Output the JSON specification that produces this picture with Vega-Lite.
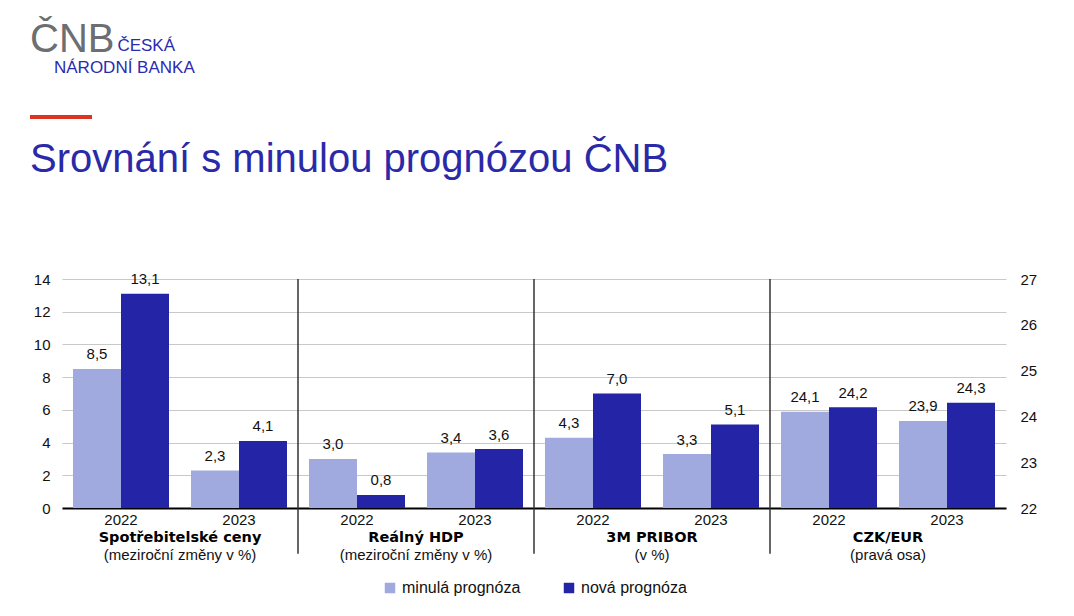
{
  "$schema": "https://vega.github.io/schema/vega-lite/v6.json",
  "background": "white",
  "padding": {"left": 30, "top": 20, "right": 10, "bottom": 4},
  "config": {
    "font": "Liberation Sans",
    "view": {"stroke": null},
    "locale": {"number": {"decimal": ",", "thousands": "\u00a0", "grouping": [3], "currency": ["", " Kč"]}},
    "legend": {"layout": {"bottom": {"anchor": "middle"}}}
  },
  "title": {
    "text": "ČNB",
    "subtitle": ["\u2800\u2800\u2800\u2800\u2800\u2800\u2800\u2009ČESKÁ", "\u2800\u2800NÁRODNÍ BANKA"],
    "anchor": "start",
    "frame": "bounds",
    "font": "Liberation Sans",
    "fontSize": 40,
    "fontWeight": "normal",
    "color": "#6d6e71",
    "subtitleFont": "Liberation Sans",
    "subtitleFontSize": 17,
    "subtitleColor": "#2b2bb0",
    "subtitleLineHeight": 22,
    "subtitlePadding": -22,
    "offset": 7
  },
  "vconcat": [
    {
      "width": 944,
      "height": 229,
      "title": {
        "text": "—",
        "subtitle": "Srovnání s minulou prognózou ČNB",
        "anchor": "start",
        "frame": "bounds",
        "font": "Liberation Sans",
        "fontSize": 62,
        "fontWeight": "normal",
        "color": "#dd3322",
        "subtitleFont": "Liberation Sans",
        "subtitleFontSize": 40,
        "subtitleColor": "#2a2aa8",
        "subtitlePadding": -6,
        "offset": 91
      },
      "data": {
        "values": [
          {"grp": "Spotřebitelské ceny", "unit": "(meziroční změny v %)", "cat": "Spotřebitelské ceny 2022", "series": "minulá prognóza", "value": 8.5},
          {"grp": "Spotřebitelské ceny", "unit": "(meziroční změny v %)", "cat": "Spotřebitelské ceny 2022", "series": "nová prognóza", "value": 13.1},
          {"grp": "Spotřebitelské ceny", "unit": "(meziroční změny v %)", "cat": "Spotřebitelské ceny 2023", "series": "minulá prognóza", "value": 2.3},
          {"grp": "Spotřebitelské ceny", "unit": "(meziroční změny v %)", "cat": "Spotřebitelské ceny 2023", "series": "nová prognóza", "value": 4.1},
          {"grp": "Reálný HDP", "unit": "(meziroční změny v %)", "cat": "Reálný HDP 2022", "series": "minulá prognóza", "value": 3.0},
          {"grp": "Reálný HDP", "unit": "(meziroční změny v %)", "cat": "Reálný HDP 2022", "series": "nová prognóza", "value": 0.8},
          {"grp": "Reálný HDP", "unit": "(meziroční změny v %)", "cat": "Reálný HDP 2023", "series": "minulá prognóza", "value": 3.4},
          {"grp": "Reálný HDP", "unit": "(meziroční změny v %)", "cat": "Reálný HDP 2023", "series": "nová prognóza", "value": 3.6},
          {"grp": "3M PRIBOR", "unit": "(v %)", "cat": "3M PRIBOR 2022", "series": "minulá prognóza", "value": 4.3},
          {"grp": "3M PRIBOR", "unit": "(v %)", "cat": "3M PRIBOR 2022", "series": "nová prognóza", "value": 7.0},
          {"grp": "3M PRIBOR", "unit": "(v %)", "cat": "3M PRIBOR 2023", "series": "minulá prognóza", "value": 3.3},
          {"grp": "3M PRIBOR", "unit": "(v %)", "cat": "3M PRIBOR 2023", "series": "nová prognóza", "value": 5.1},
          {"grp": "CZK/EUR", "unit": "(pravá osa)", "cat": "CZK/EUR 2022", "series": "minulá prognóza", "value": 24.1},
          {"grp": "CZK/EUR", "unit": "(pravá osa)", "cat": "CZK/EUR 2022", "series": "nová prognóza", "value": 24.2},
          {"grp": "CZK/EUR", "unit": "(pravá osa)", "cat": "CZK/EUR 2023", "series": "minulá prognóza", "value": 23.9},
          {"grp": "CZK/EUR", "unit": "(pravá osa)", "cat": "CZK/EUR 2023", "series": "nová prognóza", "value": 24.3}
        ]
      },
      "encoding": {
        "x": {
          "field": "cat", "type": "nominal",
          "scale": {"domain": ["Spotřebitelské ceny 2022", "Spotřebitelské ceny 2023", "Reálný HDP 2022", "Reálný HDP 2023", "3M PRIBOR 2022", "3M PRIBOR 2023", "CZK/EUR 2022", "CZK/EUR 2023"], "paddingInner": 0.1864, "paddingOuter": 0.0932},
          "axis": {"title": null, "labelExpr": "slice(datum.label, -4)", "labelAngle": 0, "ticks": false, "domain": true, "domainColor": "#000000", "domainWidth": 2, "labelPadding": 4, "labelFontSize": 15, "labelColor": "#111111", "grid": false}
        }
      },
      "resolve": {"scale": {"y": "independent"}},
      "layer": [
        {
          "transform": [{"filter": "datum.grp !== 'CZK/EUR'"}],
          "mark": {"type": "bar"},
          "encoding": {
            "xOffset": {"field": "series", "type": "nominal", "scale": {"domain": ["minulá prognóza", "nová prognóza"], "paddingInner": 0, "paddingOuter": 0}},
            "y": {
              "field": "value", "type": "quantitative",
              "scale": {"domain": [0, 14], "nice": false, "zero": true},
              "axis": {"orient": "left", "title": null, "values": [0, 2, 4, 6, 8, 10, 12, 14], "format": "d", "grid": true, "gridColor": "#c8c8c8", "gridWidth": 1, "ticks": false, "domain": false, "labelPadding": 12, "minExtent": 32, "labelFontSize": 15, "labelColor": "#111111"}
            },
            "color": {"field": "series", "type": "nominal", "scale": {"domain": ["minulá prognóza", "nová prognóza"], "range": ["#a0aadf", "#2424a6"]},
              "legend": {"orient": "bottom", "direction": "horizontal", "title": null, "symbolType": "square", "symbolSize": 110, "symbolStrokeWidth": 0, "labelFontSize": 16, "labelColor": "#111111", "columnPadding": 40, "labelOffset": 4, "offset": 16}}
          }
        },
        {
          "transform": [{"filter": "datum.grp !== 'CZK/EUR'"}],
          "mark": {"type": "text", "dy": -14.5, "fontSize": 15, "color": "#111111"},
          "encoding": {
            "xOffset": {"field": "series", "type": "nominal", "scale": {"domain": ["minulá prognóza", "nová prognóza"], "paddingInner": 0, "paddingOuter": 0}},
            "y": {"field": "value", "type": "quantitative", "scale": {"domain": [0, 14], "nice": false, "zero": true}, "axis": null},
            "text": {"field": "value", "type": "quantitative", "format": ".1f"}
          }
        },
        {
          "transform": [{"filter": "datum.grp === 'CZK/EUR'"}],
          "mark": {"type": "bar"},
          "encoding": {
            "xOffset": {"field": "series", "type": "nominal", "scale": {"domain": ["minulá prognóza", "nová prognóza"], "paddingInner": 0, "paddingOuter": 0}},
            "y": {
              "field": "value", "type": "quantitative",
              "scale": {"domain": [22, 27], "nice": false, "zero": false},
              "axis": {"orient": "right", "title": null, "values": [22, 23, 24, 25, 26, 27], "format": "d", "grid": false, "ticks": false, "domain": false, "labelPadding": 14, "labelFontSize": 15, "labelColor": "#111111"}
            },
            "y2": {"datum": 22},
            "color": {"field": "series", "type": "nominal", "scale": {"domain": ["minulá prognóza", "nová prognóza"], "range": ["#a0aadf", "#2424a6"]}}
          }
        },
        {
          "transform": [{"filter": "datum.grp === 'CZK/EUR'"}],
          "mark": {"type": "text", "dy": -14.5, "fontSize": 15, "color": "#111111"},
          "encoding": {
            "xOffset": {"field": "series", "type": "nominal", "scale": {"domain": ["minulá prognóza", "nová prognóza"], "paddingInner": 0, "paddingOuter": 0}},
            "y": {"field": "value", "type": "quantitative", "scale": {"domain": [22, 27], "nice": false, "zero": false}, "axis": null},
            "text": {"field": "value", "type": "quantitative", "format": ".1f"}
          }
        },
        {
          "transform": [
            {"filter": {"field": "series", "equal": "minulá prognóza"}},
            {"filter": {"field": "cat", "oneOf": ["Reálný HDP 2022", "3M PRIBOR 2022", "CZK/EUR 2022"]}}
          ],
          "mark": {"type": "rule", "color": "#333333", "strokeWidth": 1.5},
          "encoding": {
            "x": {"field": "cat", "type": "nominal", "bandPosition": -0.1146},
            "y": {"datum": 14, "type": "quantitative", "scale": {"domain": [0, 14], "nice": false}, "axis": null},
            "y2": {"datum": -2.8}
          }
        },
        {
          "transform": [
            {"filter": {"field": "series", "equal": "minulá prognóza"}},
            {"filter": {"field": "cat", "oneOf": ["Spotřebitelské ceny 2022", "Reálný HDP 2022", "3M PRIBOR 2022", "CZK/EUR 2022"]}}
          ],
          "mark": {"type": "text", "font": "DejaVu Sans", "fontWeight": "bold", "fontSize": 14.5, "color": "#000000", "baseline": "middle"},
          "encoding": {
            "x": {"field": "cat", "type": "nominal", "bandPosition": 1.1146},
            "y": {"datum": -1.83, "type": "quantitative", "scale": {"domain": [0, 14], "nice": false}, "axis": null},
            "text": {"field": "grp"}
          }
        },
        {
          "transform": [
            {"filter": {"field": "series", "equal": "minulá prognóza"}},
            {"filter": {"field": "cat", "oneOf": ["Spotřebitelské ceny 2022", "Reálný HDP 2022", "3M PRIBOR 2022", "CZK/EUR 2022"]}}
          ],
          "mark": {"type": "text", "fontSize": 15, "color": "#111111", "baseline": "middle"},
          "encoding": {
            "x": {"field": "cat", "type": "nominal", "bandPosition": 1.1146},
            "y": {"datum": -2.9, "type": "quantitative", "scale": {"domain": [0, 14], "nice": false}, "axis": null},
            "text": {"field": "unit"}
          }
        }
      ]
    }
  ]
}
